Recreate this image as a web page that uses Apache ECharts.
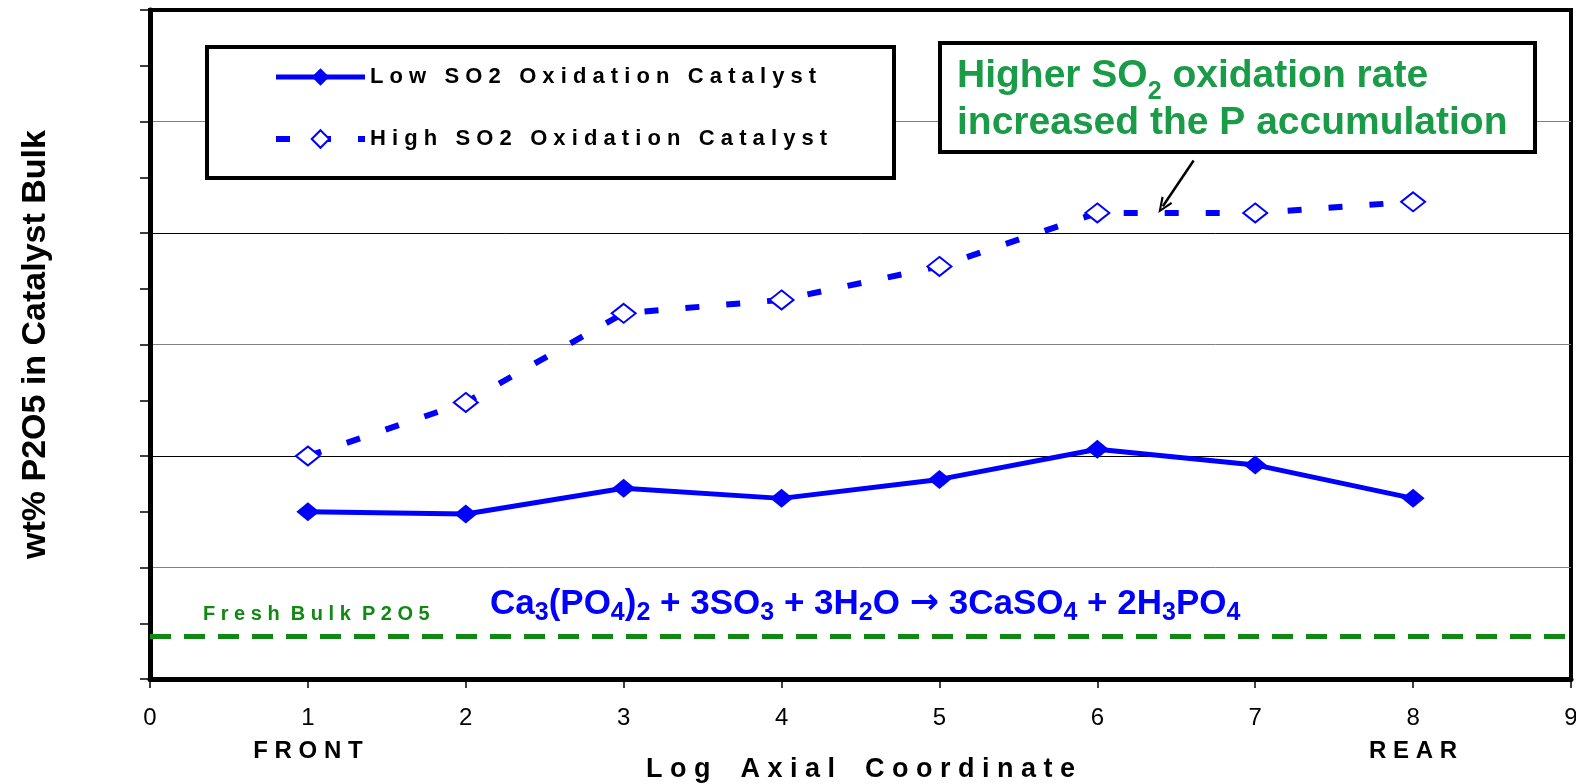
<!DOCTYPE html>
<html>
<head>
<meta charset="utf-8">
<script src="https://cdn.jsdelivr.net/npm/echarts@6/dist/echarts.min.js"></script>
<style>
  html, body { margin: 0; padding: 0; background: #fff; }
  #chart { width: 1576px; height: 784px; }
</style>
</head>
<body>
<div id="chart"></div>
<script>
// axial position of each sample
var xPos = [1, 2, 3, 4, 5, 6, 7, 8];
// wt% P2O5 in catalyst bulk (y axis carries no labels)
var lowSO2 = [1.50, 1.48, 1.71, 1.62, 1.79, 2.06, 1.92, 1.62];
var highSO2 = [2.00, 2.48, 3.28, 3.40, 3.70, 4.18, 4.18, 4.28];
var freshBulk = 0.38;
var seriesNames = ['Low SO2 Oxidation Catalyst', 'High SO2 Oxidation Catalyst'];
var endLabels = { 1: 'FRONT', 8: 'REAR' };
// arrow from the note to the high series plateau
var arrowFrom = [6.61, 4.65];
var arrowTo = [6.415, 4.24];

var FONT = "'Liberation Sans', Arial, sans-serif";
var BLUE = '#0000FF';
var NOTE_GREEN = '#1A9B47';
var FRESH_GREEN = '#118811';

// spread letters out like the original slide text
function spaced(s, wordGap) {
    return s.split(' ').map(function (w) { return w.split('').join(' '); }).join(wordGap);
}

function pairs(xs, ys) {
    return xs.map(function (x, i) { return [x, ys[i]]; });
}

var dom = document.getElementById('chart');
var myChart = echarts.init(dom, null, { renderer: 'canvas' });

var option = {
    animation: false,
    backgroundColor: '#fff',
    textStyle: { fontFamily: FONT },
    grid: {
        left: 150, right: 5, top: 10, bottom: 105,
        containLabel: false,
        outerBoundsMode: 'none',
        show: true, borderColor: '#000', borderWidth: 4, backgroundColor: 'transparent'
    },
    legend: {
        data: [
            { name: seriesNames[0], lineStyle: { width: 5 } },
            { name: seriesNames[1], lineStyle: { width: 6, type: [14, 27] } }
        ],
        orient: 'vertical',
        left: 273, top: 66,
        itemWidth: 89, itemHeight: 22, itemGap: 40,
        padding: 0,
        selectedMode: false,
        z: 20,
        formatter: function (name) { return spaced(name, '   '); },
        textStyle: { fontSize: 22, fontWeight: 'bold', color: '#000', fontFamily: FONT }
    },
    xAxis: {
        type: 'value',
        min: 0, max: 9, interval: 1,
        name: spaced('Log Axial Coordinate', '    '),
        nameLocation: 'middle',
        nameGap: 77,
        nameMoveOverlap: false,
        nameTextStyle: { fontSize: 27, fontWeight: 'bold', color: '#000', fontFamily: FONT },
        axisLine: { onZero: false, lineStyle: { color: '#000', width: 5 } },
        axisTick: { length: 9, lineStyle: { color: '#000', width: 1.5 } },
        splitLine: { show: false },
        axisLabel: {
            fontSize: 24, color: '#000', margin: 23, lineHeight: 33, fontFamily: FONT,
            formatter: function (v) {
                return endLabels[v] ? v + '\n{b|' + spaced(endLabels[v], '  ') + '}' : String(v);
            },
            rich: { b: { fontSize: 24, fontWeight: 'bold', color: '#000', lineHeight: 33, fontFamily: FONT } }
        }
    },
    yAxis: {
        type: 'value',
        min: 0, max: 6, interval: 1,
        name: 'wt% P2O5 in Catalyst Bulk',
        nameLocation: 'middle',
        nameGap: 97,
        nameMoveOverlap: false,
        nameTextStyle: { fontSize: 34, fontWeight: 'bold', color: '#000', fontFamily: FONT },
        axisLine: { show: true, lineStyle: { color: '#000', width: 5 } },
        axisTick: { show: true, length: 10, lineStyle: { color: '#000', width: 1.5 } },
        minorTick: { show: true, splitNumber: 2, length: 10, lineStyle: { color: '#000', width: 1.5 } },
        axisLabel: { show: false },
        splitLine: { show: true, lineStyle: { color: ['#000', '#808080'], width: 1 } }
    },
    series: [
        {
            name: seriesNames[0],
            type: 'line',
            data: pairs(xPos, lowSO2),
            symbol: 'diamond',
            symbolSize: [23, 19],
            itemStyle: { color: BLUE },
            lineStyle: { color: BLUE, width: 5 },
            z: 5,
            markLine: {
                silent: true,
                symbol: 'none',
                data: [{ yAxis: freshBulk }],
                lineStyle: { color: FRESH_GREEN, width: 5, type: [21, 13] },
                label: {
                    show: true,
                    position: 'insideStartTop',
                    distance: [53, 12],
                    formatter: spaced('Fresh Bulk P2O5', '  '),
                    fontSize: 20, fontWeight: 'bold', color: FRESH_GREEN, fontFamily: FONT
                }
            }
        },
        {
            name: seriesNames[1],
            type: 'line',
            data: pairs(xPos, highSO2),
            symbol: 'diamond',
            symbolSize: [24, 19],
            itemStyle: { color: '#fff', borderColor: BLUE, borderWidth: 2 },
            lineStyle: { color: BLUE, width: 6, type: [14, 27] },
            z: 5,
            markLine: {
                silent: true,
                symbol: ['none', 'path://M5,0 L10,12 L8.4,12.6 L5,4 L1.6,12.6 L0,12 Z'],
                symbolSize: [13, 16],
                lineStyle: { color: '#000', width: 2.5, type: 'solid' },
                label: { show: false },
                data: [[{ coord: arrowFrom }, { coord: arrowTo }]]
            }
        }
    ],
    graphic: [
        {
            type: 'rect', z: 10,
            shape: { x: 207, y: 47, width: 687, height: 131 },
            style: { fill: '#fff', stroke: '#000', lineWidth: 4 }
        },
        {
            type: 'rect', z: 10,
            shape: { x: 940, y: 43, width: 595, height: 109 },
            style: { fill: '#fff', stroke: '#000', lineWidth: 4 }
        },
        {
            type: 'text', z: 11,
            style: {
                x: 957, y: 48, textVerticalAlign: 'top',
                text: '{g|Higher SO}{s|2}{g| oxidation rate}',
                rich: {
                    g: { fontSize: 39, fontWeight: 'bold', fill: NOTE_GREEN, lineHeight: 57, fontFamily: FONT },
                    s: { fontSize: 25, fontWeight: 'bold', fill: NOTE_GREEN, verticalAlign: 'bottom', fontFamily: FONT }
                }
            }
        },
        {
            type: 'text', z: 11,
            style: {
                x: 957, y: 100, textVerticalAlign: 'top',
                text: 'increased the P accumulation',
                fontSize: 39, fontWeight: 'bold', fill: NOTE_GREEN, lineHeight: 47, fontFamily: FONT
            }
        },
        {
            type: 'text', z: 11,
            style: {
                x: 490, y: 582.5, textVerticalAlign: 'top',
                text: '{m|Ca}{s|3}{m|(PO}{s|4}{m|)}{s|2}{m| + 3SO}{s|3}{m| + 3H}{s|2}{m|O }{a|\u2192}{m| 3CaSO}{s|4}{m| + 2H}{s|3}{m|PO}{s|4}',
                rich: {
                    m: { fontSize: 35, fontWeight: 'bold', fill: BLUE, lineHeight: 43, fontFamily: FONT },
                    a: { fontSize: 35, fontWeight: 'bold', fill: BLUE, lineHeight: 43, fontFamily: "'DejaVu Sans', sans-serif" },
                    s: { fontSize: 25, fontWeight: 'bold', fill: BLUE, verticalAlign: 'bottom', fontFamily: FONT }
                }
            }
        }
    ]
};

if (option && typeof option === 'object') {
    myChart.setOption(option, true);
}
</script>
</body>
</html>
